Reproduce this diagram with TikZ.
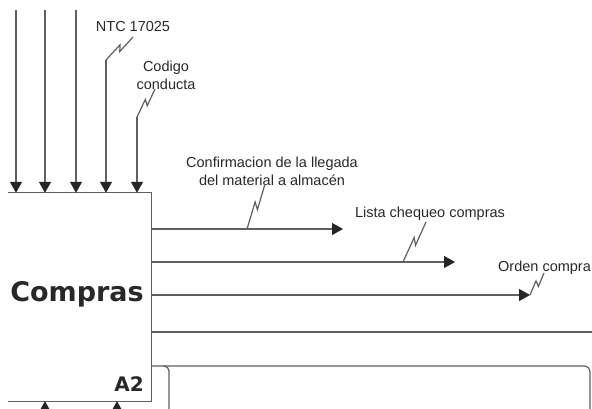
\documentclass[tikz,border=0pt]{standalone}
\usepackage{fontspec}
\setmainfont{Liberation Sans}
\newfontfamily\boxfont{DejaVu Sans}
\usetikzlibrary{arrows.meta,calc}
\definecolor{linegray}{RGB}{95,95,95}
\definecolor{textgray}{RGB}{40,40,40}
\newcommand\myzig[2]{\draw[flow] (#1) -- ($(#1)!0.58!(#2)!2.5pt!90:(#2)$) -- ($(#1)!0.45!(#2)!2.5pt!-90:(#2)$) -- (#2);}
\begin{document}
\begin{tikzpicture}[x=1pt,y=-1pt]
            \tikzset{
                flow/.style={draw=linegray, line width=1.2pt},
                arrow/.style={flow, -{Triangle[width=12pt,length=11pt,color=black!85]}},
                lbl/.style={text=textgray, font=\fontsize{14.5}{18}\selectfont, inner sep=0pt, align=center},}
            \useasboundingbox (0,0) rectangle (592,408);
            \clip (0,0) rectangle (592,408);
            \node [minimum width=143pt, minimum height=208pt, inner sep=0pt] (box) at (79.5,297) {};
            \draw [flow] (box.north west) -- (box.north east) -- (box.south east) -- (box.south west);
            \node [text=textgray, font=\boxfont\bfseries\fontsize{27}{30}\selectfont] (name) at (77,294) {Compras};
            \node [text=textgray, font=\boxfont\bfseries\fontsize{20}{24}\selectfont] (num) at (129,384) {A2};
            % inputs from above
            \foreach \x/\n in {16/a,45/b,76/c}{
                \coordinate (in\n) at (\x,10);
                \draw [arrow] (in\n) -- (in\n |- box.north);}
            \node [lbl] (ntc) at (133,27) {NTC 17025};
            \coordinate (ind) at (106,60);
            \coordinate (ntctip) at (133,37);
            \draw [arrow] (ind) -- (ind |- box.north);
            \myzig{ind}{ntctip}
            \node [lbl] (codigo) at (166,75) {Codigo\\conducta};
            \coordinate (ine) at (137,117);
            \coordinate (codtip) at (155,89);
            \draw [arrow] (ine) -- (ine |- box.north);
            \myzig{ine}{codtip}
            % outputs
            \foreach \y/\xe/\n in {229/343/a,262/455/b,295/530/c}{
                \coordinate (out\n) at (\xe,\y);
                \draw [arrow] (box.east |- out\n) -- (out\n);}
            \node [lbl] (conf) at (272,171) {Confirmacion de la llegada\\del material a almacén};
            \coordinate (confbase) at (247,229);
            \coordinate (conftip) at (265,184);
            \myzig{confbase}{conftip}
            \node [lbl] (lista) at (430,214) {Lista chequeo compras};
            \coordinate (listabase) at (403,262);
            \coordinate (listatip) at (426,222);
            \myzig{listabase}{listatip}
            \node [lbl, anchor=west] (orden) at (498,268) {Orden compra};
            \coordinate (ordentip) at (544,273);
            \myzig{outc}{ordentip}
            \coordinate (outd) at (592,332);
            \draw [flow] (box.east |- outd) -- (outd);
            \coordinate (fork) at (169,366);
            \coordinate (oute) at (169,420);
            \coordinate (outf) at (590,420);
            \draw [flow, rounded corners=5pt] (box.east |- fork) -| (oute);
            \draw [flow, rounded corners=6pt] ($(fork)+(-6,0)$) -| (outf);
            % controls from below
            \foreach \x/\n in {45/a,117/b}{
                \coordinate (mec\n) at (\x,428);
                \draw [arrow] (mec\n) -- (mec\n |- box.south);}
        \end{tikzpicture}
\end{document}
